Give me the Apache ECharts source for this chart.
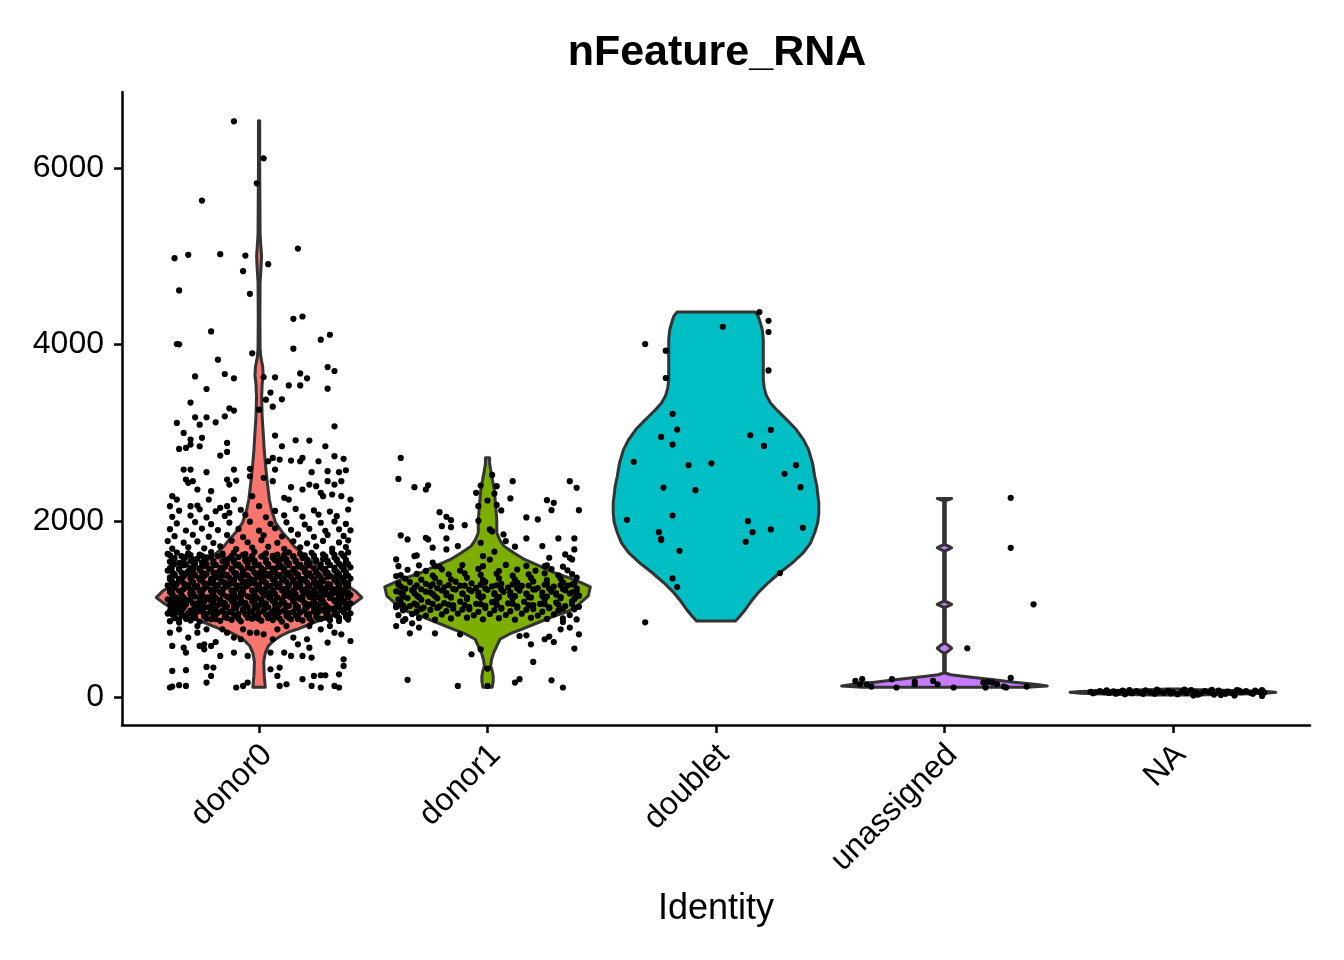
<!DOCTYPE html>
<html>
<head>
<meta charset="utf-8">
<script src="https://cdn.jsdelivr.net/npm/echarts@6/dist/echarts.min.js"></script>
<style>
  html, body { margin: 0; padding: 0; background: #fff; }
  #chart { width: 1344px; height: 960px; }
</style>
</head>
<body>
<div id="chart"></div>
<script>
// identities on the x axis
const identities = ['donor0', 'donor1', 'doublet', 'unassigned', 'NA'];
const fills = ['#F8766D', '#7CAE00', '#00BFC4', '#C77CFF', '#7F7F7F'];
const yTicks = [0, 2000, 4000, 6000];

// violin outlines: [value, half width in % of the widest violin]
const donor0Shape = [[113,6],[250,5],[400,4.5],[500,6],[580,9],[640,14],[694,21],[740,29],[770,37],[850,54],[920,70],[1000,83],[1060,92],[1129,100],[1200,94],[1260,86],[1320,79],[1373,72],[1411,68],[1480,58],[1562,49],[1640,41],[1713,34],[1789,29],[1864,23],[1980,16],[2128,12],[2241,10],[2434,8],[2600,6.5],[2807,5],[3000,4],[3184,3],[3400,2.5],[3550,3],[3650,4],[3750,3.5],[3850,1.8],[3950,1],[4300,0.8],[4700,1],[4850,1.8],[5000,2.4],[5100,1.8],[5250,1],[6000,0.6],[6535,0.6]];
const donor1Shape = [[113,4.5],[180,5.5],[241,5.5],[300,4.5],[355,3],[430,4],[506,6],[580,9],[657,12],[720,22],[770,33],[850,50],[920,65],[980,80],[1034,87],[1150,98],[1250,100],[1330,85],[1411,65],[1480,52],[1562,36],[1640,25],[1713,16],[1780,12],[1864,9],[2000,9],[2166,8],[2354,6.5],[2450,5],[2546,3.5],[2650,2],[2716,2]];
const doubletShape = [[864,19],[930,24],[1000,29],[1100,35],[1185,41],[1300,51],[1411,62],[1520,74],[1638,85],[1750,92],[1864,96],[1980,99],[2090,100],[2200,100],[2300,99],[2400,98],[2505,96],[2650,94],[2807,90],[2920,85],[3034,78],[3120,71],[3200,64],[3270,58],[3336,53],[3420,49],[3500,47],[3600,46],[3800,46],[3940,46],[4060,46],[4166,45],[4250,43],[4320,41],[4366,38]];
const unassignedShape = [[113,80],[128,100],[145,90],[170,68],[200,46],[230,24],[255,6],[275,0.8],[500,0.8],[525,4],[555,7],[585,4],[610,0.8],[1020,0.8],[1035,4],[1053,7],[1071,4],[1086,0.8],[1660,0.8],[1676,4],[1694,7],[1712,4],[1728,0.8],[2225,0.8],[2240,4],[2253,7]];
const naShape = [[25,20],[35,60],[45,90],[55,100],[65,90],[75,60],[85,25],[92,5]];

// jittered cells: [horizontal jitter, nFeature_RNA]
const donor0Cells = [
[-.11,6528],[.02,6109],[-.01,5826],[-.25,5630],[.17,5086],[-.37,4977],[-.31,5015],[-.17,5022],[-.06,5007],[-.07,4830],[.04,4909],[-.35,4611],[-.04,4573],[.15,4290],[.19,4316],[.27,4053],[.31,4109],[-.21,4147],[-.36,4004],[-.35,4000],[.15,3951],[-.03,3898],[-.18,3826],[-.28,3637],[-.15,3664],[-.11,3615],[.02,3630],[.07,3626],[.18,3671],[.30,3743],[.33,3698],[.21,3615],[-.23,3494],[.13,3535],[.18,3535],[.30,3498],[.05,3453],[-.30,3340],[.03,3373],[.10,3377],[.06,3294],[-.13,3275],[-.11,3249],[-.28,3173],[-.23,3173],[-.15,3184],[.00,3260],
[-.36,3109],[-.26,3090],[-.19,3116],[-.33,2996],[-.25,2940],[-.30,2921],[-.30,2864],[-.32,2826],[-.35,2815],[-.26,2845],[-.14,2883],[-.17,2739],[-.14,2781],[.07,2966],[.10,2845],[.16,2913],[.22,2909],[.29,2845],[.33,3071],[.06,2713],[.04,2675],[.07,2581],[.09,2694],[.14,2683],[.18,2675],[.19,2713],[.26,2675],[.33,2732],[.37,2702],[.23,2551],[.30,2562],[.35,2551],[.38,2573],[-.33,2581],[-.30,2581],[-.23,2551],[-.11,2581],[-.04,2589],[-.04,2505],[.02,2487],[-.32,2468],[-.31,2430],[-.29,2449],[-.14,2468],[-.13,2411],[-.10,2456],[-.27,2355],[-.21,2336],[.06,2449],[.14,2381],[.19,2355],[.22,2411],[.25,2392],[.30,2449],[.33,2411],[.36,2449],[.11,2260],[.13,2241],[.27,2317],[.28,2279],[.32,2298],[.36,2279],[.40,2241],[-.38,2279],[-.36,2241],[-.39,2166],[-.30,2166],[-.27,2173],[-.22,2241],[-.17,2147],[-.14,2166],[-.11,2241],[-.13,2090],[-.03,2279],[.00,2166],
[-.35,2115],[-.26,2130],[-.19,2108],[-.08,2125],[.07,2112],[.16,2135],[.24,2118],[.31,2105],[.39,2128],
[-.38,2045],[-.30,2060],[-.23,2038],[-.15,2055],[-.06,2068],[.03,2040],[.11,2062],[.19,2048],[.26,2070],[.34,2052],
[-.36,1970],[-.28,1985],[-.21,1962],[-.13,1980],[-.04,1990],[.05,1966],[.12,1983],[.20,1958],[.27,1978],[.33,1992],[.38,1965],
[-.39,1905],[-.32,1890],[-.25,1912],[-.18,1895],[-.09,1908],[.00,1888],[.07,1915],[.14,1898],[.22,1910],[.29,1886],[.35,1903],[.40,1892],
[-.37,1826],[-.29,1842],[-.22,1820],[-.14,1838],[-.07,1815],[.02,1835],[.10,1822],[.17,1845],[.24,1818],[.30,1840],[.37,1828],
[-.40,1770],[-.33,1752],[-.27,1766],[-.20,1748],[-.12,1775],[-.05,1757],[.01,1780],[.08,1750],[.15,1768],[.21,1745],[.28,1772],[.35,1755],[.39,1779],
[-.38,1684],[-.31,1700],[-.24,1688],[-.17,1710],[-.10,1680],[-.03,1696],[.04,1705],[.11,1682],[.18,1698],[.25,1711],[.32,1686],[.38,1703],
[-.40,1624],[-.36,1640],[-.31,1632],[-.26,1618],[-.21,1645],[-.16,1627],[-.11,1639],[-.06,1621],[-.02,1648],[.03,1630],[.08,1616],[.13,1643],[.18,1625],[.23,1637],[.28,1620],[.32,1646],[.36,1629],[.39,1641],
[-.37,1576],[-.32,1592],[-.27,1570],[-.23,1585],[-.18,1598],[-.13,1573],[-.09,1589],[-.04,1567],[.01,1594],[.06,1580],[.10,1571],[.15,1596],[.19,1578],[.24,1591],[.28,1568],[.33,1584],[.37,1599],
[-.39,1536],[-.35,1522],[-.30,1544],[-.25,1527],[-.20,1518],[-.16,1540],[-.11,1529],[-.06,1547],[-.02,1520],[.03,1534],[.08,1545],[.12,1523],[.16,1539],[.21,1516],[.25,1543],[.30,1528],[.34,1548],[.38,1531],
[-.38,1480],[-.33,1495],[-.29,1474],[-.24,1490],[-.19,1500],[-.15,1477],[-.10,1493],[-.05,1470],[-.01,1497],[.04,1483],[.08,1472],[.13,1498],[.17,1481],[.22,1494],[.27,1476],[.31,1501],[.36,1486],[.40,1473],
[-.40,1436],[-.35,1449],[-.31,1430],[-.26,1445],[-.22,1455],[-.17,1433],[-.12,1447],[-.07,1428],[-.03,1452],[.02,1439],[.06,1426],[.11,1451],[.15,1435],[.20,1448],[.25,1429],[.29,1454],[.33,1438],[.37,1446],
[-.37,1392],[-.32,1406],[-.28,1384],[-.23,1399],[-.19,1411],[-.14,1388],[-.10,1403],[-.05,1381],[.00,1408],[.04,1395],[.09,1383],[.13,1410],[.17,1391],[.22,1404],[.26,1386],[.30,1409],[.35,1397],[.38,1382],
[-.39,1360],[-.35,1346],[-.30,1368],[-.26,1351],[-.21,1341],[-.17,1365],[-.13,1354],[-.08,1372],[-.04,1344],[.01,1359],[.05,1370],[.10,1348],[.14,1363],[.18,1340],[.23,1367],[.27,1352],[.31,1373],[.36,1357],[.40,1345],
[-.38,1310],[-.34,1326],[-.29,1304],[-.25,1320],[-.20,1331],[-.16,1307],[-.11,1323],[-.07,1301],[-.02,1328],[.02,1314],[.07,1305],[.11,1329],[.15,1312],[.20,1325],[.24,1302],[.28,1318],[.33,1330],[.37,1309],
[-.40,1268],[-.36,1284],[-.31,1273],[-.27,1262],[-.22,1288],[-.18,1270],[-.13,1281],[-.09,1265],[-.04,1291],[.00,1276],[.05,1260],[.09,1286],[.13,1271],[.18,1282],[.22,1264],[.26,1290],[.31,1277],[.35,1263],[.39,1285],
[-.37,1240],[-.33,1226],[-.28,1249],[-.24,1232],[-.19,1221],[-.15,1244],[-.10,1230],[-.06,1252],[-.01,1225],[.03,1238],[.08,1247],[.12,1223],[.16,1241],[.21,1229],[.25,1251],[.29,1234],[.34,1220],[.38,1246],
[-.39,1192],[-.35,1207],[-.30,1186],[-.26,1200],[-.21,1213],[-.17,1189],[-.12,1204],[-.08,1181],[-.03,1209],[.01,1196],[.05,1184],[.10,1211],[.14,1190],[.19,1203],[.23,1182],[.27,1208],[.32,1194],[.36,1212],[.39,1187],
[-.38,1160],[-.34,1145],[-.30,1168],[-.25,1151],[-.21,1140],[-.16,1163],[-.12,1149],[-.07,1172],[-.03,1143],[.02,1158],[.06,1170],[.11,1147],[.15,1161],[.19,1142],[.24,1166],[.28,1153],[.32,1174],[.36,1146],[.40,1159],
[-.40,1110],[-.36,1124],[-.31,1105],[-.26,1131],[-.22,1116],[-.17,1102],[-.13,1127],[-.08,1113],[-.04,1135],[.01,1108],[.05,1121],[.10,1100],[.14,1129],[.18,1114],[.23,1133],[.27,1106],[.31,1125],[.35,1111],[.39,1130],
[-.37,1070],[-.33,1088],[-.28,1062],[-.24,1080],[-.20,1094],[-.15,1067],[-.11,1083],[-.06,1071],[-.02,1091],[.03,1064],[.07,1085],[.11,1074],[.15,1093],[.20,1066],[.24,1081],[.28,1069],[.33,1090],[.37,1077],[.40,1063],
[-.39,1042],[-.35,1028],[-.32,1050],[-.27,1033],[-.22,1021],[-.18,1046],[-.14,1030],[-.09,1054],[-.05,1026],[.00,1040],[.04,1019],[.09,1048],[.13,1035],[.17,1024],[.22,1052],[.26,1037],[.30,1022],[.35,1045],[.38,1031],
[-.38,990],[-.34,1004],[-.29,985],[-.25,1010],[-.20,993],[-.16,981],[-.11,1006],[-.07,996],[-.02,1012],[.02,987],[.07,1001],[.11,983],[.16,1009],[.20,997],[.24,1013],[.28,989],[.32,1005],[.36,992],[.39,1008],
[-.40,948],[-.36,962],[-.31,951],[-.27,970],[-.23,944],[-.18,958],[-.13,965],[-.09,949],[-.04,972],[.00,955],[.05,947],[.09,966],[.13,953],[.18,961],[.22,945],[.26,969],[.30,957],[.33,940],[.37,963],[.40,952],
[-.37,912],[-.33,926],[-.28,905],[-.24,919],[-.19,931],[-.15,908],[-.10,922],[-.05,915],[-.01,903],[.04,928],[.08,911],[.12,920],[.17,906],[.21,932],[.25,914],[.29,901],[.34,925],[.38,909],
[-.39,862],[-.35,880],[-.30,871],[-.26,858],[-.21,884],[-.17,866],[-.12,877],[-.08,860],[-.03,889],[.01,868],[.06,875],[.10,857],[.14,883],[.19,870],[.23,861],[.27,887],[.31,872],[.35,864],[.39,880],
[-.37,896],[-.32,889],[-.28,900],[-.23,892],[-.19,886],[-.14,898],[-.09,890],[-.05,902],[.00,887],[.04,897],[.09,891],[.13,903],[.17,888],[.22,899],[.26,893],[.31,885],[.35,901],[.39,895],
[-.38,938],[-.34,930],[-.29,942],[-.24,933],[-.20,927],[-.15,940],[-.11,931],[-.06,944],[-.02,929],[.03,937],[.07,932],[.12,945],[.16,928],[.21,939],[.25,934],[.30,926],[.34,943],[.38,936],
[-.39,978],[-.34,970],[-.30,982],[-.25,973],[-.21,967],[-.16,980],[-.12,971],[-.07,984],[-.03,969],[.02,977],[.06,972],[.11,985],[.15,968],[.20,979],[.24,974],[.29,966],[.33,983],[.37,976],
[-.37,1018],[-.33,1010],[-.28,1022],[-.24,1013],[-.19,1007],[-.15,1020],[-.10,1011],[-.06,1024],[-.01,1009],[.03,1017],[.08,1012],[.12,1025],[.17,1008],[.21,1019],[.26,1014],[.30,1006],[.34,1023],[.39,1016],
[-.38,1058],[-.33,1050],[-.29,1062],[-.25,1053],[-.20,1047],[-.16,1060],[-.11,1051],[-.07,1064],[-.02,1049],[.02,1057],[.07,1052],[.11,1065],[.16,1048],[.20,1059],[.25,1054],[.29,1046],[.34,1063],[.38,1056],
[-.39,1098],[-.35,1090],[-.30,1102],[-.26,1093],[-.21,1087],[-.17,1100],[-.12,1091],[-.08,1104],[-.03,1089],[.01,1097],[.06,1092],[.10,1105],[.15,1088],[.19,1099],[.24,1094],[.28,1086],[.33,1103],[.37,1096],
[-.37,1138],[-.33,1130],[-.28,1142],[-.23,1133],[-.19,1127],[-.14,1140],[-.10,1131],[-.05,1144],[-.01,1129],[.04,1137],[.08,1132],[.13,1145],[.17,1128],[.22,1139],[.26,1134],[.31,1126],[.35,1143],[.39,1136],
[-.38,1178],[-.34,1170],[-.29,1182],[-.25,1173],[-.20,1167],[-.16,1180],[-.11,1171],[-.07,1184],[-.02,1169],[.03,1177],[.07,1172],[.12,1185],[.16,1168],[.21,1179],[.25,1174],[.30,1166],[.34,1183],[.38,1176],
[-.39,1218],[-.34,1210],[-.30,1222],[-.25,1213],[-.21,1207],[-.16,1220],[-.12,1211],[-.07,1224],[-.03,1209],[.02,1217],[.06,1212],[.11,1225],[.15,1208],[.20,1219],[.24,1214],[.29,1206],[.33,1223],[.37,1216],
[-.37,1258],[-.32,1250],[-.28,1262],[-.23,1253],[-.19,1247],[-.14,1260],[-.09,1251],[-.05,1264],[.00,1249],[.04,1257],[.09,1252],[.13,1265],[.18,1248],[.22,1259],[.27,1254],[.31,1246],[.35,1263],[.39,1256],
[-.38,1298],[-.33,1290],[-.29,1302],[-.24,1293],[-.20,1287],[-.15,1300],[-.11,1291],[-.06,1304],[-.02,1289],[.03,1297],[.07,1292],[.12,1305],[.16,1288],[.21,1299],[.25,1294],[.30,1286],[.34,1303],[.38,1296],
[-.39,1338],[-.35,1330],[-.30,1342],[-.26,1333],[-.21,1327],[-.17,1340],[-.12,1331],[-.08,1344],[-.03,1329],[.01,1337],[.06,1332],[.10,1345],[.15,1328],[.19,1339],[.24,1334],[.28,1326],[.33,1343],[.37,1336],
[-.37,1378],[-.33,1370],[-.28,1382],[-.24,1373],[-.19,1367],[-.15,1380],[-.10,1371],[-.06,1384],[-.01,1369],[.03,1377],[.08,1372],[.12,1385],[.17,1368],[.21,1379],[.26,1374],[.30,1366],[.34,1383],[.39,1376],
[-.38,1420],[-.34,1412],[-.29,1424],[-.25,1415],[-.20,1409],[-.16,1422],[-.11,1413],[-.07,1426],[-.02,1411],[.02,1419],[.07,1414],[.11,1427],[.16,1410],[.20,1421],[.25,1416],[.29,1408],[.34,1425],[.38,1418],
[-.39,1465],[-.35,1457],[-.30,1469],[-.26,1460],[-.21,1454],[-.17,1467],[-.12,1458],[-.08,1471],[-.03,1456],[.01,1464],[.06,1459],[.10,1472],[.15,1455],[.19,1466],[.24,1461],[.28,1453],[.33,1470],[.37,1463],
[-.37,1510],[-.32,1502],[-.28,1514],[-.23,1505],[-.19,1499],[-.14,1512],[-.09,1503],[-.05,1516],[.00,1501],[.04,1509],[.09,1504],[.13,1517],[.18,1500],[.22,1511],[.27,1506],[.31,1498],[.35,1515],[.39,1508],
[-.38,1558],[-.33,1550],[-.29,1562],[-.24,1553],[-.20,1547],[-.15,1560],[-.11,1551],[-.06,1564],[-.02,1549],[.03,1557],[.07,1552],[.12,1565],[.16,1548],[.21,1559],[.25,1554],[.30,1546],[.34,1563],[.38,1556],
[-.39,1608],[-.34,1600],[-.30,1612],[-.25,1603],[-.21,1597],[-.16,1610],[-.12,1601],[-.07,1614],[-.03,1599],[.02,1607],[.06,1602],[.11,1615],[.15,1598],[.20,1609],[.24,1604],[.29,1596],[.33,1613],[.37,1606],
[-.35,846],[-.27,807],[-.23,770],[-.16,770],[-.07,770],[-.04,732],[.08,770],[.12,807],[.22,807],[.27,770],[.31,807],[-.39,732],[-.35,770],[-.27,732],[.02,713],[-.01,732],[-.14,732],[-.11,676],[-.08,657],[.05,506],[.06,657],[.15,676],[.17,600],[.21,657],[.30,619],[.33,732],[.36,713],[.40,637],
[-.38,581],[-.33,562],[-.31,676],[-.26,581],[-.24,600],[-.21,581],[-.19,626],[-.32,506],[-.24,543],[-.17,468],[-.11,506],[-.05,468],[-.38,298],[-.32,306],[-.23,343],[-.20,336],[-.21,241],[-.23,166],[-.39,110],[-.38,121],[-.35,136],[-.32,128],[-.10,110],[-.07,128],[-.05,166],
[.05,317],[.09,336],[.08,241],[.09,128],[.12,147],[.11,506],[.14,468],[.19,204],[.19,468],[.22,562],[.23,449],[.23,128],[.27,110],[.33,128],[.35,110],[.24,241],[.27,249],[.29,249],[.35,260],[.37,430],[.37,355]
];
const donor1Cells = [
[-.38,2713],[-.39,2475],[-.32,2381],[-.27,2355],[-.26,2403],[.11,2449],[.04,2392],[.03,2309],[-.05,2317],[-.04,2166],[.10,2253],[.36,2449],[.39,2374],[.26,2234],[.29,2204],[.28,2120],[.40,2120],[.06,2117],[.17,2038],[.22,2015],[-.21,2098],[-.18,2045],[-.16,2007],[-.20,1939],[-.16,1928],[-.10,1950],[.01,1902],[-.38,1834],[-.35,1789],[-.27,1808],[-.26,1789],[-.24,1695],[-.18,1800],[-.13,1713],[-.31,1607],[-.18,1675],[.07,1845],[.08,1770],[.12,1707],[.17,1800],[.24,1713],[.31,1800],[.38,1800],[.38,1675],[.34,1619],[.36,1581],[.37,1562],[.27,1581],[.25,1486],[-.40,1562],[-.39,1486],[-.40,1373],[-.32,1600],[-.24,1525],[-.23,1486],
[-.02,1600],[.03,1650],[-.03,1750],[.02,1880],[-.04,2000],[.04,2180],[.00,2230],[-.03,2400],[.02,2520],[.01,1560],
[-.30,1495],[-.21,1482],[-.11,1498],[-.02,1485],[.08,1500],[.17,1488],[.26,1494],[.33,1480],
[-.35,1445],[-.27,1432],[-.20,1450],[-.12,1436],[-.04,1454],[.05,1430],[.13,1448],[.21,1435],[.28,1452],[.35,1439],
[-.38,1384],[-.31,1398],[-.24,1380],[-.17,1394],[-.10,1403],[-.03,1386],[.04,1400],[.11,1378],[.18,1393],[.25,1405],[.31,1382],[.37,1396],
[-.36,1345],[-.29,1332],[-.23,1350],[-.16,1336],[-.09,1354],[-.02,1329],[.05,1347],[.12,1334],[.19,1352],[.26,1328],[.32,1343],[.39,1356],
[-.39,1290],[-.34,1304],[-.27,1286],[-.21,1300],[-.14,1310],[-.07,1292],[-.01,1307],[.06,1284],[.13,1299],[.20,1313],[.26,1288],[.33,1302],[.38,1294],
[-.39,1275],[-.31,1268],[-.24,1279],[-.17,1271],[-.10,1265],[-.03,1277],[.04,1269],[.11,1280],[.18,1266],[.25,1276],[.32,1270],[.37,1278],
[-.38,1255],[-.32,1242],[-.25,1260],[-.19,1246],[-.12,1264],[-.05,1239],[.02,1257],[.09,1244],[.15,1262],[.22,1238],[.29,1253],[.35,1266],
[-.36,1231],[-.29,1224],[-.22,1235],[-.15,1227],[-.08,1221],[-.01,1233],[.06,1225],[.13,1236],[.20,1222],[.27,1232],[.33,1226],[.39,1234],
[-.40,1200],[-.33,1214],[-.27,1196],[-.20,1210],[-.14,1220],[-.07,1202],[.00,1217],[.07,1194],[.14,1209],[.21,1223],[.28,1198],[.34,1212],[.39,1205],
[-.38,1185],[-.32,1178],[-.25,1189],[-.18,1181],[-.11,1175],[-.04,1187],[.03,1179],[.10,1190],[.17,1176],[.24,1186],[.30,1180],[.37,1188],
[-.37,1165],[-.31,1152],[-.24,1170],[-.18,1156],[-.11,1174],[-.04,1149],[.03,1167],[.10,1154],[.17,1172],[.24,1148],[.30,1163],[.36,1176],[.40,1151],
[-.37,1140],[-.30,1133],[-.23,1144],[-.16,1136],[-.09,1130],[-.02,1142],[.05,1134],[.12,1145],[.19,1131],[.26,1141],[.32,1135],[.39,1143],
[-.39,1110],[-.35,1124],[-.29,1106],[-.22,1121],[-.16,1130],[-.09,1112],[-.03,1127],[.04,1104],[.11,1119],[.18,1133],[.25,1108],[.32,1123],[.38,1114],
[-.38,1075],[-.32,1062],[-.26,1080],[-.19,1066],[-.12,1084],[-.05,1059],[.02,1077],[.09,1064],[.16,1082],[.23,1058],[.30,1073],[.37,1086],
[-.38,1053],[-.31,1046],[-.24,1057],[-.17,1049],[-.10,1043],[-.03,1055],[.04,1047],[.11,1058],[.18,1044],[.25,1054],[.31,1048],[.37,1056],
[-.40,1020],[-.34,1034],[-.28,1016],[-.21,1030],[-.15,1040],[-.08,1022],[-.01,1036],[.06,1014],[.13,1029],[.20,1043],[.27,1019],[.34,1033],[.40,1025],
[-.36,1008],[-.29,1001],[-.22,1012],[-.15,1004],[-.08,998],[-.01,1010],[.06,1002],[.13,1013],[.20,999],[.27,1009],[.33,1003],[.38,1011],
[-.37,985],[-.31,972],[-.25,990],[-.18,976],[-.11,994],[-.04,969],[.03,987],[.10,975],[.17,992],[.24,970],[.31,983],[.38,996],
[-.39,930],[-.33,942],[-.27,925],[-.20,939],[-.13,948],[-.06,928],[.01,944],[.08,932],[.15,947],[.22,926],[.29,940],[.36,931],
[-.36,885],[-.30,898],[-.23,880],[-.16,893],[-.09,902],[-.02,884],[.05,896],[.12,879],[.19,900],[.26,888],[.33,895],[.39,882],
[-.40,807],[-.37,864],[-.34,724],[-.33,838],[-.30,789],[-.23,724],[-.12,713],[-.07,487],[-.03,543],[.00,325],[.00,128],[-.35,196],[-.13,128],[.12,166],[.14,204],[.20,400],[.28,192],[.33,110],[.38,551],[.25,657],[.27,687],[.29,626],[.36,789],[.40,713],[.33,853],[.32,770],[.19,600],[.17,702],[.14,694],[-.40,1041],[-.37,1041]
];
const doubletCells = [
[.19,4366],[.23,4268],[.23,4140],[.03,4200],[-.31,4004],[-.22,3928],[-.22,3619],[.23,3705],[-.19,3211],[-.17,3034],[-.24,2951],[-.19,2864],[.15,2970],[.24,3030],[.21,2849],[-.36,2668],[-.12,2630],[-.02,2652],[.35,2630],[.30,2532],[-.23,2377],[-.09,2347],[.37,2381],[-.39,2011],[-.19,2060],[.14,1996],[.16,1871],[.24,1902],[.38,1921],[-.25,1871],[-.24,1796],[-.24,1781],[.13,1762],[-.16,1660],[-.19,1347],[-.17,1249],[.28,1407],[-.31,849]
];
const unassignedCells = [
[.29,2260],[.29,1694],[.39,1053],[.10,555],[.29,219],[-.39,185],[-.36,204],[-.37,147],[-.34,147],[-.32,121],[-.23,204],[-.21,110],[-.13,174],[-.13,147],[-.05,185],[-.03,147],[.04,110],[.17,166],[.19,174],[.21,166],[.18,110],[.23,147],[.26,121],[.27,110],[.36,121]
];
const naCells = [
[-.36,62],[-.34,55],[-.32,70],[-.30,58],[-.28,48],[-.26,66],[-.24,54],[-.22,75],[-.20,60],[-.18,45],[-.16,68],[-.14,52],[-.12,78],[-.10,57],[-.08,40],[-.06,64],[-.04,50],[-.02,72],[.00,58],[.02,35],[.04,66],[.06,48],[.08,80],[.10,55],[.12,42],[.14,70],[.16,60],[.18,30],[.20,74],[.22,52],[.24,64],[.26,45],[.28,82],[.30,58],[.32,68],[.34,50],[.36,76],[.38,62],[.40,54],
[-.35,45],[-.29,78],[-.25,40],[-.19,82],[-.13,38],[-.07,85],[-.01,44],[.05,85],[.11,30],[.17,84],[.23,38],[.27,20],[.29,75],[.35,40],[.39,15],[.39,80],[-.21,35],[.09,20],[.21,25]
];

const shapes = [donor0Shape, donor1Shape, doubletShape, unassignedShape, naShape];
const cellSets = [donor0Cells, donor1Cells, doubletCells, unassignedCells, naCells];

const chart = echarts.init(document.getElementById('chart'), null, { renderer: 'canvas' });

const FONT = '"Liberation Sans", Arial, Helvetica, sans-serif';
const HALF = 0.45; // widest violin spans 0.9 of a category
// rotated labels hang a little right of their tick (ggplot hjust = 1)
const labelShift = 0.035;

function renderViolin(params, api) {
  const i = api.value(0) - 1;
  const shape = shapes[i];
  const pts = [];
  for (let k = 0; k < shape.length; k++) {
    pts.push(api.coord([i + 1 + shape[k][1] / 100 * HALF, shape[k][0]]));
  }
  for (let k = shape.length - 1; k >= 0; k--) {
    pts.push(api.coord([i + 1 - shape[k][1] / 100 * HALF, shape[k][0]]));
  }
  return {
    type: 'polygon',
    shape: { points: pts },
    style: { fill: fills[i], stroke: '#333333', lineWidth: 3, lineJoin: 'round' }
  };
}

const pointSeries = cellSets.map((cells, i) => ({
  type: 'scatter',
  data: cells.map(c => [i + 1 + c[0], c[1]]),
  symbol: 'circle',
  symbolSize: 6.2,
  itemStyle: { color: '#000000', opacity: 1 },
  z: 3,
  silent: true
}));

const option = {
  animation: false,
  backgroundColor: '#ffffff',
  title: {
    text: 'nFeature_RNA',
    left: 712,
    top: 27,
    textAlign: 'center',
    textStyle: { fontFamily: FONT, fontSize: 43, fontWeight: 'bold', color: '#000' }
  },
  grid: { left: 122, right: 34, top: 92, bottom: 235 },
  xAxis: {
    type: 'value',
    min: 0.4,
    max: 5.6,
    name: 'Identity',
    nameLocation: 'middle',
    nameGap: 166,
    nameTextStyle: { fontFamily: FONT, fontSize: 36, color: '#000' },
    splitLine: { show: false },
    axisLine: { onZero: false, lineStyle: { color: '#000', width: 2.5 } },
    axisTick: { customValues: [1, 2, 3, 4, 5], length: 8, lineStyle: { color: '#000', width: 2.5 } },
    axisLabel: {
      customValues: [1, 2, 3, 4, 5].map(v => v + labelShift),
      formatter: v => identities[Math.round(v) - 1],
      rotate: 45,
      margin: 25,
      fontFamily: FONT,
      fontSize: 32,
      color: '#000'
    }
  },
  yAxis: {
    type: 'value',
    min: -315,
    max: 6861,
    splitLine: { show: false },
    axisLine: { show: true, onZero: false, lineStyle: { color: '#000', width: 2.5 } },
    axisTick: { show: true, customValues: yTicks, length: 8, lineStyle: { color: '#000', width: 2.5 } },
    axisLabel: {
      customValues: yTicks,
      formatter: v => String(v),
      margin: 18,
      fontFamily: FONT,
      fontSize: 32,
      color: '#000'
    }
  },
  series: [
    {
      type: 'custom',
      renderItem: renderViolin,
      data: identities.map((name, i) => [i + 1, 0]),
      encode: { x: 0, y: 1 },
      clip: false,
      z: 2,
      silent: true
    }
  ].concat(pointSeries)
};

chart.setOption(option);
</script>
</body>
</html>
